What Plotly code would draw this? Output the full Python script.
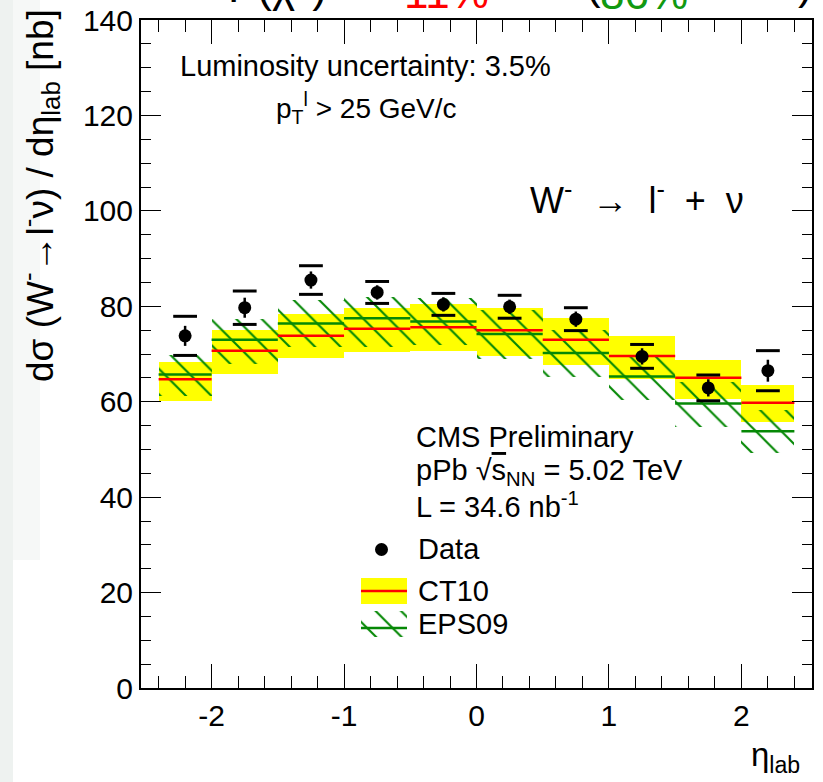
import plotly.graph_objects as go

# ---------------- data ----------------
bin_lo = [-2.4, -2.0, -1.5, -1.0, -0.5, 0.0, 0.5, 1.0, 1.5, 2.0]
bin_hi = [-2.0, -1.5, -1.0, -0.5, 0.0, 0.5, 1.0, 1.5, 2.0, 2.4]
data_x = [-2.2, -1.75, -1.25, -0.75, -0.25, 0.25, 0.75, 1.25, 1.75, 2.2]
data_y = [73.8, 79.7, 85.5, 82.9, 80.4, 79.9, 77.3, 69.5, 62.9, 66.5]
data_stat = [2.1, 2.1, 1.8, 1.5, 1.5, 1.5, 1.6, 1.7, 1.8, 2.3]
data_sys = [4.1, 3.5, 3.0, 2.3, 2.3, 2.4, 2.4, 2.5, 2.7, 4.2]

ct10_c = [64.7, 70.7, 73.8, 75.3, 75.6, 75.0, 73.0, 69.6, 65.0, 59.8]
ct10_lo = [60.1, 65.9, 69.2, 70.4, 70.6, 69.6, 67.6, 64.7, 60.6, 55.7]
ct10_hi = [68.4, 75.0, 78.3, 79.7, 80.4, 79.7, 77.6, 73.8, 68.8, 63.4]

eps_c = [65.7, 73.0, 76.4, 77.5, 76.8, 74.2, 70.2, 65.3, 59.6, 53.8]
eps_lo = [61.3, 68.0, 71.5, 71.4, 71.8, 69.0, 65.2, 60.4, 54.8, 49.3]
eps_hi = [69.7, 77.3, 81.3, 82.0, 81.7, 79.2, 75.0, 69.7, 64.1, 58.2]

x_ticks = [-2, -1, 0, 1, 2]
x_ticktext = ["-2", "-1", "0", "1", "2"]
y_ticks = [0, 20, 40, 60, 80, 100, 120, 140]

# ---------------- layout geometry ----------------
W, H = 823, 782
PL, PR, PT, PB = 141, 812, 20, 688
XR = [-2.533, 2.533]
YR = [0, 140]
FONT = "Liberation Sans, Arial, Helvetica, sans-serif"
YEL = "#ffff00"
RED = "#ff0000"
GRN = "#058805"


def px(xp):
    return (xp - PL) / (PR - PL)


def py(yp):
    return (PB - yp) / (PB - PT)


def dx(xp):
    return XR[0] + (xp - PL) / (PR - PL) * (XR[1] - XR[0])


def dy(yp):
    return YR[0] + (PB - yp) / (PB - PT) * (YR[1] - YR[0])


centers = [(a + b) / 2 for a, b in zip(bin_lo, bin_hi)]
widths = [b - a for a, b in zip(bin_lo, bin_hi)]


def segs(vals):
    xs, ys = [], []
    for a, b, v in zip(bin_lo, bin_hi, vals):
        xs += [a, b, None]
        ys += [v, v, None]
    return xs, ys


HATCH = dict(shape="\\", fgcolor=GRN, bgcolor="rgba(0,0,0,0)", fgopacity=1,
             size=18, solidity=0.12, fillmode="replace")

fig = go.Figure()

# CT10 band
fig.add_trace(go.Bar(x=centers, y=[h - l for h, l in zip(ct10_hi, ct10_lo)], base=ct10_lo,
                     width=widths, marker=dict(color=YEL, line=dict(width=0)),
                     showlegend=False, hoverinfo="skip"))
# EPS09 hatched band
fig.add_trace(go.Bar(x=centers, y=[h - l for h, l in zip(eps_hi, eps_lo)], base=eps_lo,
                     width=widths,
                     marker=dict(color="rgba(0,0,0,0)", line=dict(width=0), pattern=HATCH),
                     showlegend=False, hoverinfo="skip"))

# CT10 central
sx, sy = segs(ct10_c)
fig.add_trace(go.Scatter(x=sx, y=sy, mode="lines", line=dict(color=RED, width=2.5),
                         showlegend=False, hoverinfo="skip"))
# EPS09 central
sx, sy = segs(eps_c)
fig.add_trace(go.Scatter(x=sx, y=sy, mode="lines", line=dict(color=GRN, width=2.5),
                         showlegend=False, hoverinfo="skip"))

# data: syst caps
fig.add_trace(go.Scatter(x=data_x + data_x,
                         y=[v + s for v, s in zip(data_y, data_sys)] + [v - s for v, s in zip(data_y, data_sys)],
                         mode="markers",
                         marker=dict(symbol="line-ew", size=17, line=dict(width=3, color="black")),
                         showlegend=False, hoverinfo="skip"))
# data points with stat error
fig.add_trace(go.Scatter(x=data_x, y=data_y, mode="markers",
                         marker=dict(color="black", size=13),
                         error_y=dict(type="data", array=data_stat, thickness=2.5, width=0, color="black"),
                         showlegend=False))

# legend key for EPS09 (hatched box)
lx0, lx1, ly0, ly1 = dx(361), dx(407), dy(611), dy(637)
fig.add_trace(go.Scatter(x=[lx0, lx1, lx1, lx0, lx0], y=[ly0, ly0, ly1, ly1, ly0], mode="lines",
                         fill="toself", fillcolor="rgba(0,0,0,0)", line=dict(width=0),
                         fillpattern=HATCH, showlegend=False, hoverinfo="skip"))
fig.add_trace(go.Scatter(x=[lx0, lx1], y=[dy(628), dy(628)], mode="lines",
                         line=dict(color=GRN, width=2.5), showlegend=False, hoverinfo="skip"))

shapes = [
    # faint background tint on the left (slide background)
    dict(type="rect", xref="paper", yref="paper", x0=px(0), x1=px(13), y0=py(H), y1=py(0),
         fillcolor="#eef2f0", line=dict(width=0), layer="below"),
    dict(type="rect", xref="paper", yref="paper", x0=px(13), x1=px(40), y0=py(560), y1=py(0),
         fillcolor="#f6f8f7", line=dict(width=0), layer="below"),
    # legend: data marker
    dict(type="circle", xref="paper", yref="paper", x0=px(375), x1=px(388), y0=py(556), y1=py(543),
         fillcolor="black", line=dict(width=0)),
    # legend: CT10
    dict(type="rect", xref="paper", yref="paper", x0=px(361), x1=px(407), y0=py(604), y1=py(578),
         fillcolor=YEL, line=dict(width=0)),
    dict(type="line", xref="paper", yref="paper", x0=px(361), x1=px(407), y0=py(591), y1=py(591),
         line=dict(color=RED, width=2.5)),
]

ann = []


def txt(t, xp, yp, size, color="black", xanchor="left", yanchor="middle", angle=0):
    ann.append(dict(text=t, x=px(xp), y=py(yp), xref="paper", yref="paper", showarrow=False,
                    xanchor=xanchor, yanchor=yanchor, textangle=angle,
                    font=dict(family=FONT, size=size, color=color)))


txt("Luminosity uncertainty: 3.5%", 178, 66, 29)
txt("p<sub>T</sub><sup>l</sup> > 25 GeV/c", 274, 108, 28)
txt("W<sup>-</sup> &nbsp;→ &nbsp;l<sup>-</sup> &nbsp;+ &nbsp;ν", 528, 198, 36)
txt("CMS Preliminary", 414, 437, 29)
txt("pPb √<span style='text-decoration:overline'>s</span><sub>NN</sub> = 5.02 TeV", 414, 472, 29)
txt("L = 34.6 nb<sup>-1</sup>", 414, 505, 29)
txt("Data", 416, 549, 29)
txt("CT10", 416, 591, 29)
txt("EPS09", 416, 624, 29)
# axis titles
txt("dσ (W<sup>-</sup>→l<sup>-</sup>ν) / dη<sub>lab</sub> [nb]", 40, 196, 37, angle=-90, xanchor="center")
txt("η<sub>lab</sub>", 802, 757, 33, xanchor="right")
# cut-off header at the top of the slide
txt("P(χ<sup>2</sup>) =", 226, -16, 44)
txt("11%", 402, -7, 44, color=RED)
txt("(", 584, -16, 44)
txt("86%", 598, -6, 44, color="#119911")
txt(")", 796, -16, 44)

axis_common = dict(showline=True, linecolor="black", linewidth=2, mirror="allticks",
                   ticks="inside", tickcolor="black", tickwidth=1.2, showgrid=False,
                   zeroline=False, automargin=False,
                   tickfont=dict(family=FONT, size=30, color="black"))

fig.update_layout(
    width=W, height=H,
    margin=dict(l=PL, r=W - PR, t=PT, b=H - PB, pad=0, autoexpand=False),
    paper_bgcolor="white", plot_bgcolor="white",
    barmode="overlay", bargap=0,
    showlegend=False,
    xaxis=dict(range=XR, tickmode="array", tickvals=x_ticks, ticktext=x_ticktext, ticklen=24,
               minor=dict(tickmode="linear", tick0=0, dtick=0.2, ticklen=12, ticks="inside",
                          tickcolor="black", tickwidth=1.2),
               **axis_common),
    yaxis=dict(range=YR, tickmode="array", tickvals=y_ticks, ticklen=20,
               minor=dict(tickmode="linear", tick0=0, dtick=5, ticklen=10, ticks="inside",
                          tickcolor="black", tickwidth=1.2),
               **axis_common),
    shapes=shapes,
    annotations=ann,
)

fig.write_html("out.html")
